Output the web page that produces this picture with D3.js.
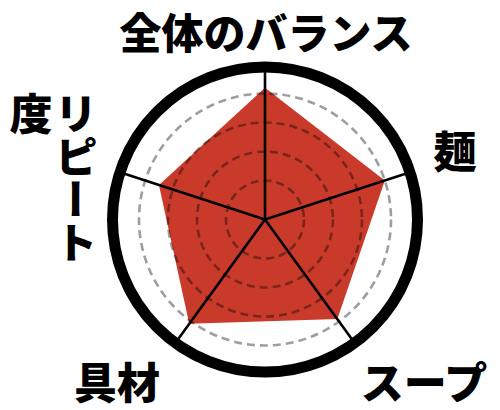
<!DOCTYPE html>
<html>
<head>
    <meta charset="utf-8">
    <title>Ramen Radar</title>
    <style>
        body { margin: 0; background: #fff; }
        .label {
            font-family: "Noto Sans CJK JP", sans-serif;
            font-weight: 900;
            font-size: 43px;
            fill: #000;
        }
        .title { font-size: 42px; }
        .vertical {
            writing-mode: vertical-rl;
        }
    </style>
</head>
<body>
    <svg id="radar" width="500" height="410"></svg>

    <script src="https://cdn.jsdelivr.net/npm/d3@7"></script>
    <script>
        // chart data
        const axes = ['全体のバランス', '麺', 'スープ', '具材', 'リピート度'];
        const scores = [4.2, 4.0, 3.9, 4.1, 3.5];
        const levels = [1, 2, 3, 4];
        const maxScore = 5;

        const svg = d3.select('#radar'),
            cx = 265, cy = 219.5;

        // radius scale (small offset at the centre)
        const r = d3.scaleLinear().domain([0, maxScore]).range([10, 155]);
        const angle = d3.scalePoint().domain(axes).range([0, 360 - 360 / axes.length]);

        const g = svg.append('g').attr('transform', `translate(${cx},${cy})`);

        const pt = (name, v) => {
            const a = (angle(name) - 90) * Math.PI / 180;
            return [r(v) * Math.cos(a), r(v) * Math.sin(a)];
        };

        // score polygon
        g.append('path')
            .datum(axes.map((name, i) => pt(name, scores[i])))
            .attr('d', d => d3.line()(d) + 'Z')
            .attr('fill', '#c93a2b');

        // dashed level rings
        g.selectAll('.level')
            .data(levels)
            .enter().append('circle')
            .attr('class', 'level')
            .attr('r', d => r(d))
            .attr('fill', 'none')
            .attr('stroke', 'rgba(0,0,0,0.38)')
            .attr('stroke-width', 2.6)
            .attr('stroke-dasharray', '8 5');

        // spokes
        g.selectAll('.spoke')
            .data(axes)
            .enter().append('line')
            .attr('class', 'spoke')
            .attr('x1', 0).attr('y1', 0)
            .attr('x2', d => pt(d, maxScore)[0])
            .attr('y2', d => pt(d, maxScore)[1])
            .attr('stroke', '#000')
            .attr('stroke-width', 2.6);

        // outer ring
        g.append('circle')
            .attr('r', r(maxScore) - 2.5)
            .attr('fill', 'none')
            .attr('stroke', '#000')
            .attr('stroke-width', 11);

        // axis labels
        svg.append('text').attr('class', 'label title')
            .attr('x', 266).attr('y', 30)
            .attr('text-anchor', 'middle').attr('dominant-baseline', 'central')
            .text(axes[0]);

        svg.append('text').attr('class', 'label')
            .attr('x', 455).attr('y', 149)
            .attr('text-anchor', 'middle').attr('dominant-baseline', 'central')
            .text(axes[1]);

        svg.append('text').attr('class', 'label')
            .attr('x', 424).attr('y', 380)
            .attr('text-anchor', 'middle').attr('dominant-baseline', 'central')
            .text(axes[2]);

        svg.append('text').attr('class', 'label')
            .attr('x', 117).attr('y', 380)
            .attr('text-anchor', 'middle').attr('dominant-baseline', 'central')
            .text(axes[3]);

        // vertical label wraps after four characters into a second column
        const rep = axes[4];
        svg.append('text').attr('class', 'label vertical')
            .attr('x', 76).attr('y', 92)
            .text(rep.slice(0, 4));
        svg.append('text').attr('class', 'label vertical')
            .attr('x', 31).attr('y', 92)
            .text(rep.slice(4));
    </script>
</body>
</html>
